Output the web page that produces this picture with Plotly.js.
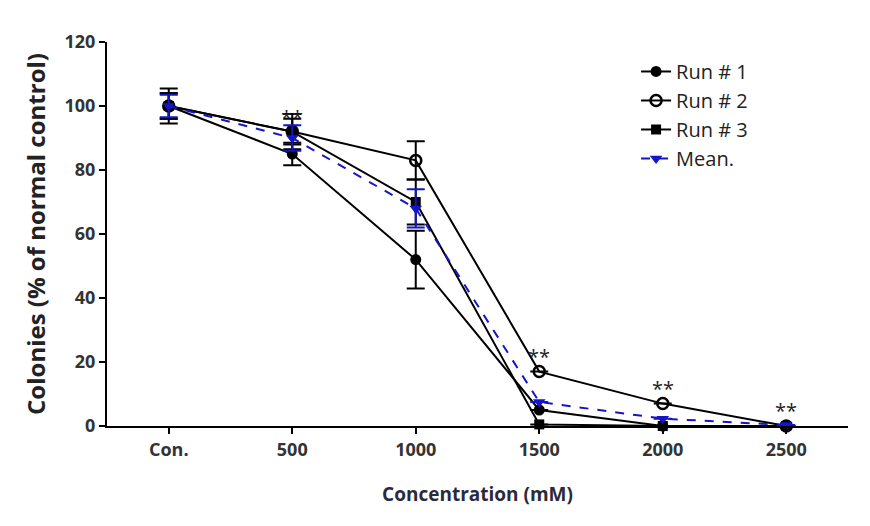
<!DOCTYPE html>
<html><head><meta charset="utf-8">
<script src="https://cdn.plot.ly/plotly-3.0.1.min.js"></script>
<style>body{margin:0;background:#fff}#c{width:870px;height:526px}</style>
</head><body><div id="c"></div>
<script>
const categories = ["Con.", "500", "1000", "1500", "2000", "2500"];
const run1 = [100, 85, 52, 5, 0, 0];
const run1Err = [4, 3.5, 9, 0, 0, 0];
const run2 = [100, 92, 83, 17, 7, 0];
const run2Err = [5.5, 5.5, 6, 0, 0, 0];
const run3 = [100, 92, 70, 0.5, 0, 0];
const run3Err = [4, 4, 7, 0, 0, 0];
const meanVals = [100, 90, 68, 7.5, 2.3, 0.3];
const meanErr = [3.5, 4, 6, 0, 0, 0];
const starCats = ["500", "1500", "2000", "2500"];
const starY = [91.5, 17, 7, 0];
const yTicks = [0, 20, 40, 60, 80, 100, 120];

const font = "Open Sans, Noto Sans, sans-serif";
function err(a, color){return {type:'data', array:a, visible:true, color:color, thickness:2, width:9};}
const traces = [
  {name:'Run # 1', x:categories, y:run1, error_y:err(run1Err,'#000'), mode:'lines+markers', cliponaxis:false,
   line:{color:'#000', width:2}, marker:{symbol:'circle', size:11, color:'#000'}},
  {name:'Run # 2', x:categories, y:run2, error_y:err(run2Err,'#000'), mode:'lines+markers', cliponaxis:false,
   line:{color:'#000', width:2}, marker:{symbol:'circle-open', size:11, color:'#000', line:{width:2.5, color:'#000'}}},
  {name:'Run # 3', x:categories, y:run3, error_y:err(run3Err,'#000'), mode:'lines+markers', cliponaxis:false,
   line:{color:'#000', width:2}, marker:{symbol:'square', size:10, color:'#000'}},
  {name:'Mean.', x:categories, y:meanVals, error_y:err(meanErr,'#1515c8'), mode:'lines+markers', cliponaxis:false,
   line:{color:'#1515c8', width:2, dash:'dash'}, marker:{symbol:'triangle-down', size:11, color:'#1515c8'}}
];
const annotations = starCats.map((c,i)=>({xref:'x', yref:'y', x:categories.indexOf(c), y:starY[i], text:'**',
  showarrow:false, yanchor:'bottom', xanchor:'center',
  font:{family:font, size:20, color:'#222'}}));
Plotly.newPlot('c', traces, {
  width:870, height:526,
  margin:{l:107, r:22, t:42, b:100},
  paper_bgcolor:'#fff', plot_bgcolor:'#fff',
  showlegend:true,
  legend:{x:0.714, y:0.974, xanchor:'left', yanchor:'top', font:{family:font, size:20, color:'#222'},
    bgcolor:'rgba(0,0,0,0)', tracegroupgap:0, itemwidth:30},
  annotations: annotations,
  xaxis:{type:'category', range:[-0.5, 5.5], showline:true, linecolor:'#000', linewidth:2,
    ticks:'outside', ticklen:6, tickwidth:2, tickcolor:'#000', showgrid:false, zeroline:false,
    tickfont:{family:font, size:18, color:'#333', weight:'bold'},
    title:{text:'<b>Concentration (mM)</b>', font:{family:font, size:19, color:'#2a2a3a'}, standoff:28}},
  yaxis:{range:[0,120], tickvals:yTicks, showline:true, linecolor:'#000', linewidth:2,
    ticks:'outside', ticklen:6, tickwidth:2, tickcolor:'#000', showgrid:false, zeroline:false,
    tickfont:{family:font, size:18, color:'#333', weight:'bold'},
    title:{text:'<b>Colonies (% of normal control)</b>', font:{family:font, size:24, color:'#222'}, standoff:12}}
}, {displayModeBar:false, staticPlot:true});
</script></body></html>
